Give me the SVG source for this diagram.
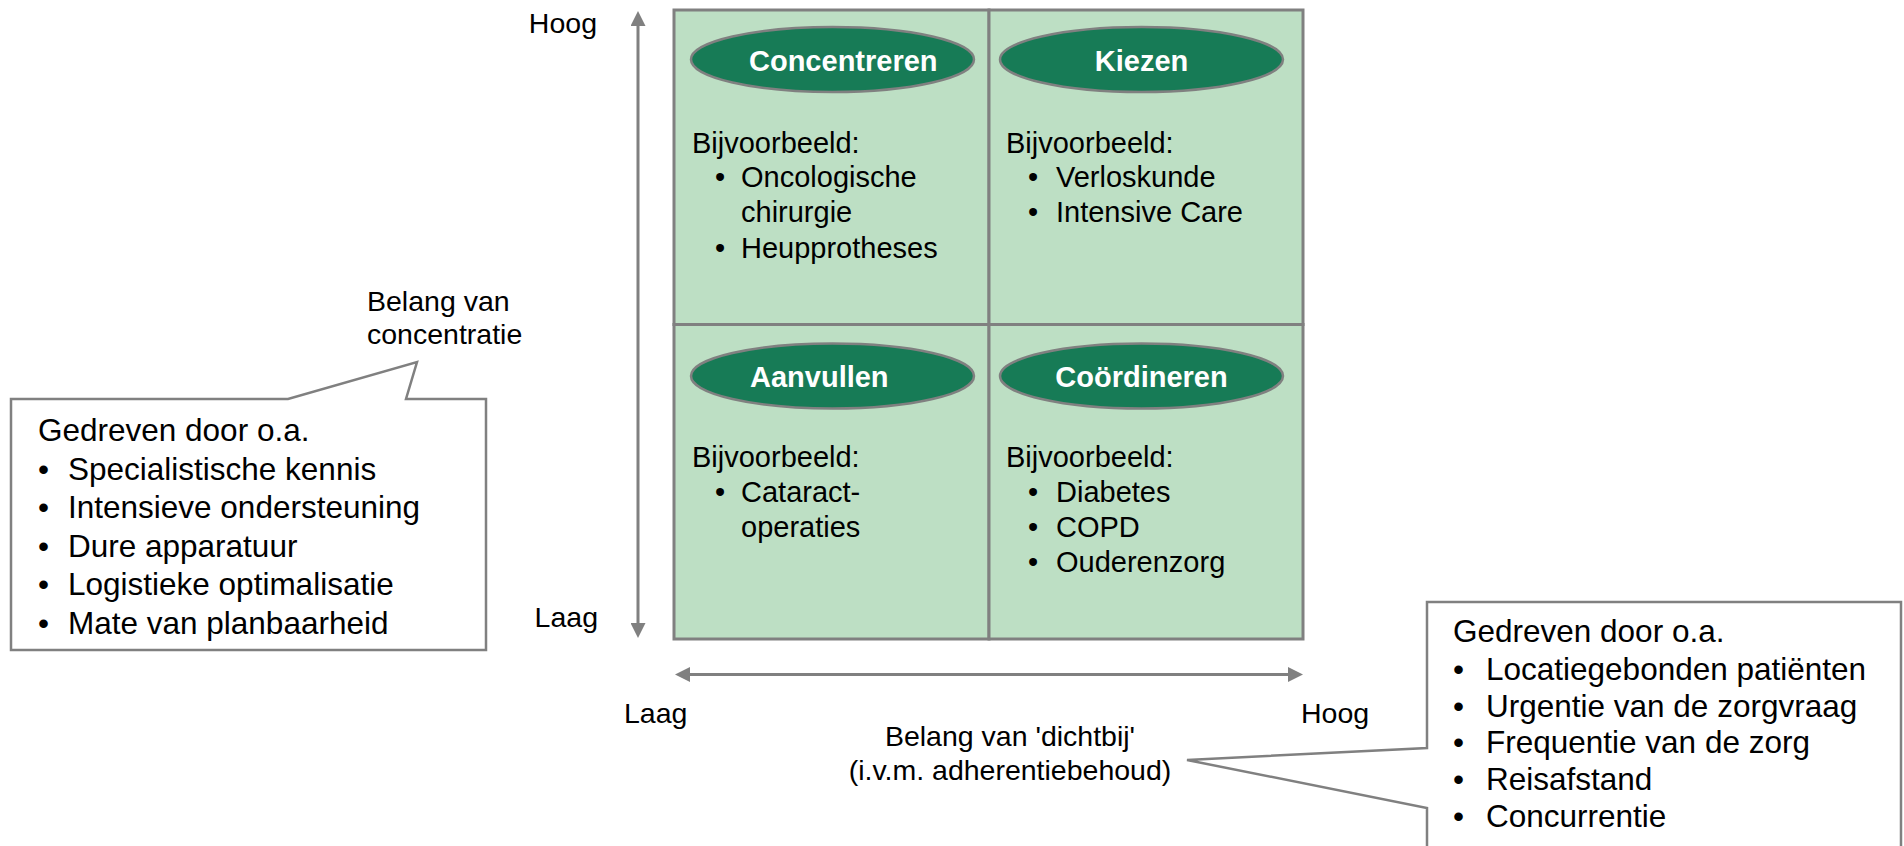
<svg xmlns="http://www.w3.org/2000/svg" width="1904" height="846" viewBox="0 0 1904 846">
<defs>
<style>
.q{fill:#bddfc4;stroke:#808080;stroke-width:3}
.ell{fill:#177b56;stroke:#808080;stroke-width:2.5}
.et{font-family:"Liberation Sans",Arial,sans-serif;font-size:29px;font-weight:bold;fill:#ffffff}
.qt{font-family:"Liberation Sans",Arial,sans-serif;font-size:29px;fill:#000000}
.lb{font-family:"Liberation Sans",Arial,sans-serif;font-size:28.5px;fill:#000000}
.bt{font-family:"Liberation Sans",Arial,sans-serif;font-size:31.5px;fill:#000000}
.call{fill:#ffffff;stroke:#808080;stroke-width:2.5}
.ax{stroke:#808080;stroke-width:3;fill:none}
</style>
<marker id="ah" viewBox="0 0 15 15" refX="0" refY="7.5" markerUnits="userSpaceOnUse" markerWidth="15" markerHeight="15" orient="auto-start-reverse">
<path d="M0,0 L15,7.5 L0,15 Z" fill="#808080"/>
</marker>
</defs>
<rect width="1904" height="846" fill="#ffffff"/>

<g id="connectors">
<line class="ax" x1="638" y1="26" x2="638" y2="623" marker-start="url(#ah)" marker-end="url(#ah)"/>
<line class="ax" x1="690" y1="674.5" x2="1288" y2="674.5" marker-start="url(#ah)" marker-end="url(#ah)"/>
</g>

<g id="axis-labels">
<text class="lb" x="597" y="33" text-anchor="end">Hoog</text>
<text class="lb" x="598" y="627" text-anchor="end">Laag</text>
<text class="lb" x="367" y="311">Belang van</text>
<text class="lb" x="367" y="344">concentratie</text>
<text class="lb" x="624" y="723">Laag</text>
<text class="lb" x="1301" y="723">Hoog</text>
<text class="lb" x="1010" y="746" text-anchor="middle">Belang van 'dichtbij'</text>
<text class="lb" x="1010" y="780" text-anchor="middle">(i.v.m. adherentiebehoud)</text>
</g>

<g id="q-concentreren">
<rect class="q" x="674" y="10" width="315" height="314.5"/>
<ellipse class="ell" cx="832.5" cy="59.5" rx="141.5" ry="32.5"/>
<text class="et" x="749" y="71">Concentreren</text>
<text class="qt" x="692" y="153">Bijvoorbeeld:</text>
<text class="qt" x="715" y="187">•</text>
<text class="qt" x="741" y="187">Oncologische</text>
<text class="qt" x="741" y="222">chirurgie</text>
<text class="qt" x="715" y="258">•</text>
<text class="qt" x="741" y="258">Heupprotheses</text>
</g>

<g id="q-kiezen">
<rect class="q" x="989" y="10" width="314" height="314.5"/>
<ellipse class="ell" cx="1141.5" cy="59.5" rx="141.5" ry="32.5"/>
<text class="et" x="1141.5" y="71" text-anchor="middle">Kiezen</text>
<text class="qt" x="1006" y="153">Bijvoorbeeld:</text>
<text class="qt" x="1028" y="187">•</text>
<text class="qt" x="1056" y="187">Verloskunde</text>
<text class="qt" x="1028" y="222">•</text>
<text class="qt" x="1056" y="222">Intensive Care</text>
</g>

<g id="q-aanvullen">
<rect class="q" x="674" y="324.5" width="315" height="314.5"/>
<ellipse class="ell" cx="832.5" cy="376" rx="141.5" ry="32.5"/>
<text class="et" x="750" y="387">Aanvullen</text>
<text class="qt" x="692" y="467">Bijvoorbeeld:</text>
<text class="qt" x="715" y="502">•</text>
<text class="qt" x="741" y="502">Cataract-</text>
<text class="qt" x="741" y="537">operaties</text>
</g>

<g id="q-coordineren">
<rect class="q" x="989" y="324.5" width="314" height="314.5"/>
<ellipse class="ell" cx="1141.5" cy="376" rx="141.5" ry="32.5"/>
<text class="et" x="1141.5" y="387" text-anchor="middle">Coördineren</text>
<text class="qt" x="1006" y="467">Bijvoorbeeld:</text>
<text class="qt" x="1028" y="502">•</text>
<text class="qt" x="1056" y="502">Diabetes</text>
<text class="qt" x="1028" y="537">•</text>
<text class="qt" x="1056" y="537">COPD</text>
<text class="qt" x="1028" y="572">•</text>
<text class="qt" x="1056" y="572">Ouderenzorg</text>
</g>

<g id="callout-concentratie">
<path class="call" d="M11,399 L288,399 L417,362 L406,399 L486,399 L486,650 L11,650 Z"/>
<text class="bt" x="38" y="441">Gedreven door o.a.</text>
<text class="bt" x="38" y="479.5">•</text>
<text class="bt" x="68" y="479.5">Specialistische kennis</text>
<text class="bt" x="38" y="518">•</text>
<text class="bt" x="68" y="518">Intensieve ondersteuning</text>
<text class="bt" x="38" y="556.5">•</text>
<text class="bt" x="68" y="556.5">Dure apparatuur</text>
<text class="bt" x="38" y="595">•</text>
<text class="bt" x="68" y="595">Logistieke optimalisatie</text>
<text class="bt" x="38" y="633.5">•</text>
<text class="bt" x="68" y="633.5">Mate van planbaarheid</text>
</g>

<g id="callout-dichtbij">
<path class="call" d="M1427,602 L1901,602 L1901,852 L1427,852 L1427,808 L1187,760 L1427,748 Z"/>
<text class="bt" x="1453" y="642">Gedreven door o.a.</text>
<text class="bt" x="1453" y="680">•</text>
<text class="bt" x="1486" y="680">Locatiegebonden patiënten</text>
<text class="bt" x="1453" y="717">•</text>
<text class="bt" x="1486" y="717">Urgentie van de zorgvraag</text>
<text class="bt" x="1453" y="753">•</text>
<text class="bt" x="1486" y="753">Frequentie van de zorg</text>
<text class="bt" x="1453" y="790">•</text>
<text class="bt" x="1486" y="790">Reisafstand</text>
<text class="bt" x="1453" y="827">•</text>
<text class="bt" x="1486" y="827">Concurrentie</text>
</g>
</svg>
